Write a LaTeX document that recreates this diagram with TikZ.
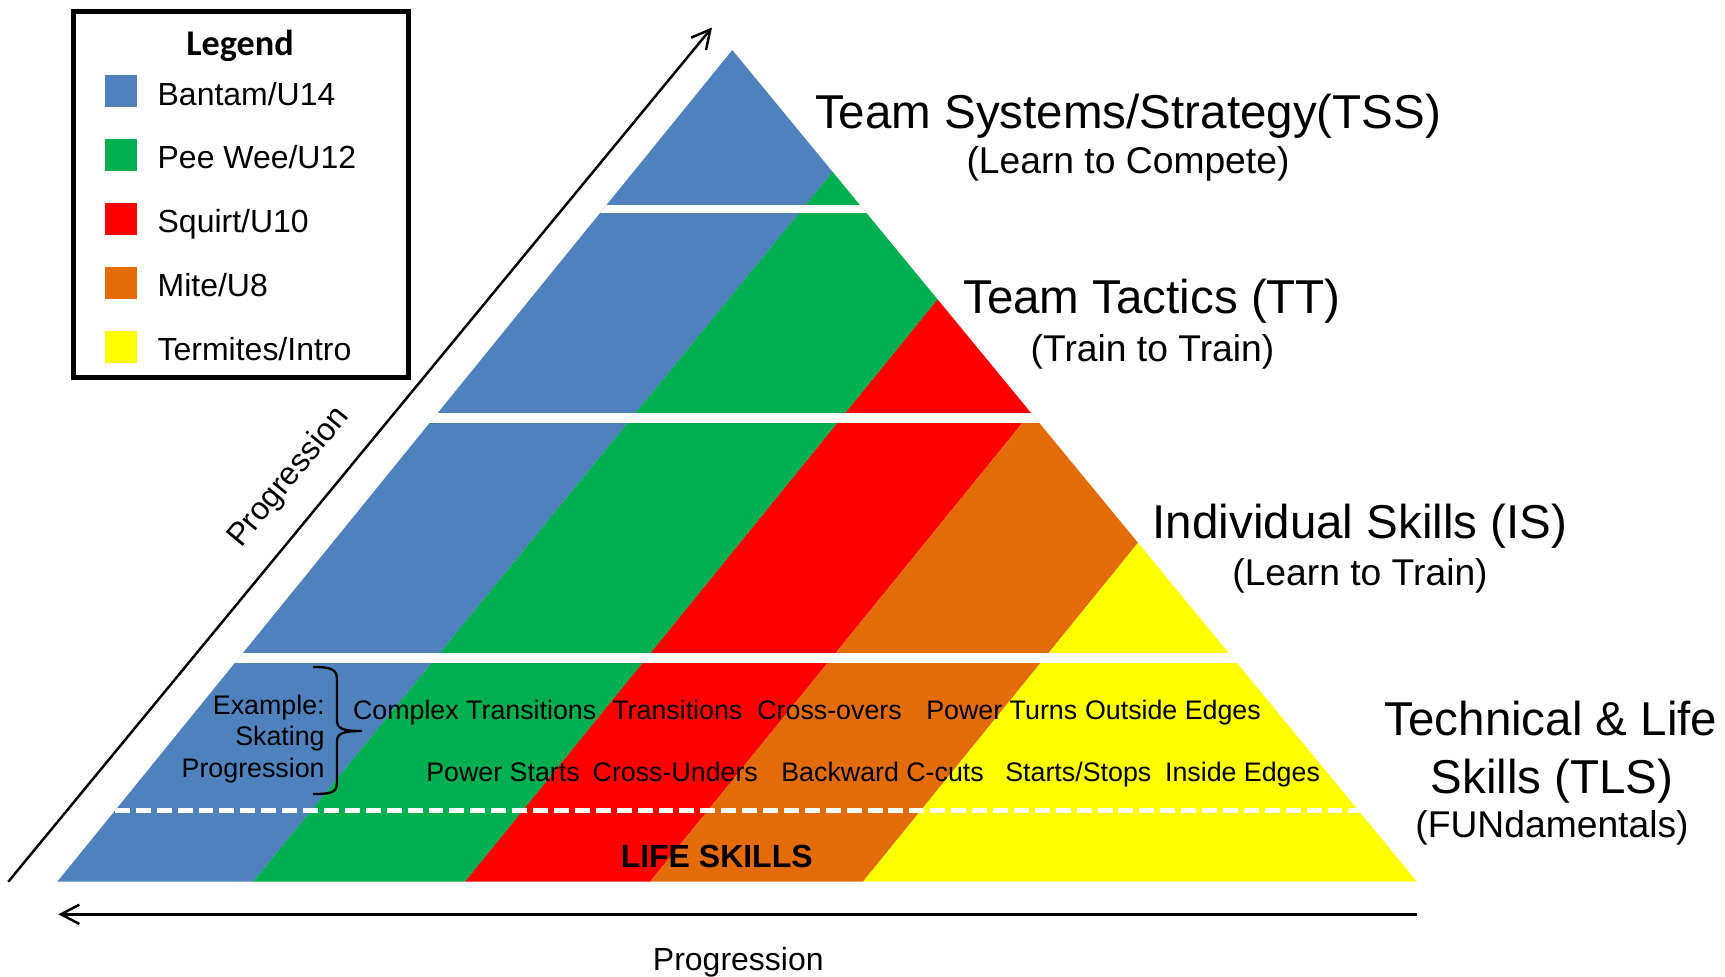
\documentclass[tikz,border=0pt]{standalone}
\usepackage{fontspec}
\setmainfont{Liberation Sans}
\newfontfamily\legendfont{Carlito}
\usetikzlibrary{arrows.meta}

\definecolor{bantam}{HTML}{4F81BD}
\definecolor{peewee}{HTML}{00B050}
\definecolor{squirt}{HTML}{FF0000}
\definecolor{mite}{HTML}{E36C09}
\definecolor{termite}{HTML}{FFFF00}

\begin{document}
\begin{tikzpicture}[x=0.02cm, y=-0.02cm,
  headtxt/.style={anchor=base, inner sep=0pt, font=\fontsize{27.05pt}{32pt}\selectfont},
  subtxt/.style={anchor=base, inner sep=0pt, font=\fontsize{21.2pt}{25pt}\selectfont},
  legtxt/.style={anchor=base west, inner sep=0pt, font=\fontsize{18.2pt}{22pt}\selectfont},
  legsq/.style={minimum size=32*0.02cm, inner sep=0pt, outer sep=0pt, anchor=north west},
  skilltxt/.style={anchor=base west, inner sep=0pt, font=\fontsize{15.25pt}{18pt}\selectfont},
  extxt/.style={anchor=base east, inner sep=0pt, font=\fontsize{15.25pt}{18pt}\selectfont},
  progtxt/.style={inner sep=0pt, font=\fontsize{18.2pt}{22pt}\selectfont},
  arr/.style={line width=1.4pt, -{Straight Barb[length=10.5pt, width=11pt]}},
  gap/.style={fill=white}
]
\useasboundingbox (0,0) rectangle (1725,977);

% pyramid corners
\coordinate (apex) at (732.3,50);
\coordinate (baseL) at (57.3,881.7);
\coordinate (baseR) at (1417,881.7);

% coloured diagonal stripes, cut to the pyramid, with white level gaps
\begin{scope}
  \clip (baseL) -- (apex) -- (baseR) -- cycle;
  \fill[bantam]  (0,890) -- (246.3,890) -- (940.2,40) -- (0,40) -- cycle;
  \fill[peewee]  (246.3,890) -- (458.3,890) -- (1148.2,40) -- (940.2,40) -- cycle;
  \fill[squirt]  (458.3,890) -- (643.3,890) -- (1333.2,40) -- (1148.2,40) -- cycle;
  \fill[mite]    (643.3,890) -- (856.3,890) -- (1546.2,40) -- (1333.2,40) -- cycle;
  \fill[termite] (856.3,890) -- (1725,890) -- (1725,40) -- (1546.2,40) -- cycle;
  \fill[gap] (0,204.5) rectangle (1725,213.3);
  \fill[gap] (0,412.5) rectangle (1725,423);
  \fill[gap] (0,652.5) rectangle (1725,663);
  \coordinate (dashL) at (114.9,810.7);
  \coordinate (dashR) at (1358.5,810.7);
  \draw[white, line width=2.66pt, dash pattern=on 8.5pt off 3.4pt] (dashL) -- (dashR);
\end{scope}

% progression arrows
\coordinate (vstart) at (8.3,881.7);
\coordinate (vend) at (712,27.5);
\draw[arr] (vstart) -- (vend);
\coordinate (hstart) at (1417,914.3);
\coordinate (hend) at (58.3,914.3);
\draw[arr] (hstart) -- (hend);
\node[progtxt, rotate=50.5] (progdiag) at (289,477.5) {Progression};
\node[progtxt, anchor=base] (progbottom) at (738.3,970) {Progression};

% legend
\draw[line width=2.66pt] (73.5,11.7) rectangle (408.3,377.5);
\node[anchor=base, inner sep=0pt, font=\legendfont\bfseries\fontsize{20.6pt}{24pt}\selectfont] (legtitle) at (240,55) {Legend};
\node[legsq, fill=bantam]  (sq1) at (105,75)  {};
\node[legsq, fill=peewee]  (sq2) at (105,139) {};
\node[legsq, fill=squirt]  (sq3) at (105,203) {};
\node[legsq, fill=mite]    (sq4) at (105,267) {};
\node[legsq, fill=termite] (sq5) at (105,331) {};
\node[legtxt] (leg1) at (157.3,105)   {Bantam/U14};
\node[legtxt] (leg2) at (157.3,168.7) {Pee Wee/U12};
\node[legtxt] (leg3) at (157.3,232.5) {Squirt/U10};
\node[legtxt] (leg4) at (157.3,296.5) {Mite/U8};
\node[legtxt] (leg5) at (157.3,360)   {Termites/Intro};

% level titles
\node[headtxt] (tss)  at (1128,128.3) {Team Systems/Strategy(TSS)};
\node[subtxt]  (tssb) at (1128,173.3) {(Learn to Compete)};
\node[headtxt] (tt)   at (1152,313.3) {Team Tactics (TT)};
\node[subtxt]  (ttb)  at (1152.5,361.7) {(Train to Train)};
\node[headtxt] (is)   at (1360,538) {Individual Skills (IS)};
\node[subtxt]  (isb)  at (1360,585) {(Learn to Train)};
\node[headtxt] (tlsa) at (1551,735) {Technical \& Life};
\node[headtxt] (tlsb) at (1552,793) {Skills (TLS)};
\node[subtxt]  (tlsc) at (1552,837) {(FUNdamentals)};

% skating progression example
\node[extxt] (ex1) at (325,714)   {Example:};
\node[extxt] (ex2) at (325,745.7) {Skating};
\node[extxt] (ex3) at (325,777.3) {Progression};
\draw[line width=1.3pt] (313,667) .. controls (333,667) and (337,670) .. (337,680)
  -- (337,720) .. controls (337,728) and (341,731) .. (362,731)
  .. controls (341,731) and (337,734) .. (337,742)
  -- (337,782) .. controls (337,792) and (333,794) .. (313,794);

\node[skilltxt] (s1) at (352.7,719) {Complex Transitions};
\node[skilltxt] (s2) at (612,719) {Transitions};
\node[skilltxt] (s3) at (757,719)   {Cross-overs};
\node[skilltxt] (s4) at (926,719)   {Power Turns};
\node[skilltxt] (s5) at (1084.7,719) {Outside Edges};
\node[skilltxt] (s6) at (426,781.7)   {Power Starts};
\node[skilltxt] (s7) at (592.3,781.7) {Cross-Unders};
\node[skilltxt] (s8) at (781,781.7)   {Backward C-cuts};
\node[skilltxt] (s9) at (1005,781.7)  {Starts/Stops};
\node[skilltxt] (s10) at (1164.7,781.7) {Inside Edges};

\node[anchor=base, inner sep=0pt, font=\bfseries\fontsize{18.2pt}{22pt}\selectfont] (life) at (716.7,867.3) {LIFE SKILLS};
\end{tikzpicture}
\end{document}
